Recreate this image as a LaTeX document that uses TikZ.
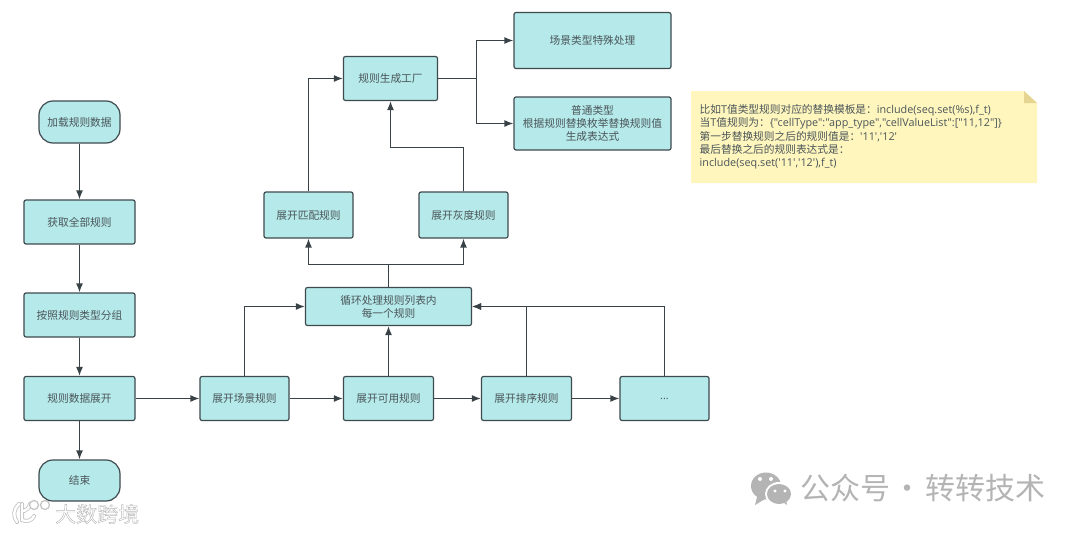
\documentclass[tikz,border=0pt]{standalone}
\usepackage{fontspec}
\setmainfont{Noto Sans CJK SC}
\newfontfamily\latinfont{Open Sans}
\newfontfamily\wmfont[FakeBold=2]{Noto Sans CJK SC}
\usetikzlibrary{arrows.meta}
\definecolor{boxfill}{HTML}{B5E9EA}
\definecolor{boxline}{HTML}{3F4A4F}
\definecolor{txt}{HTML}{4A5558}
\definecolor{notefill}{HTML}{FFF6BE}
\definecolor{notefold}{HTML}{E6D590}
\definecolor{wm}{HTML}{B4B4B4}
\newcommand{\lt}[1]{{\latinfont\fontsize{10.8}{13.2}\selectfont #1}}
\tikzset{
  x=1pt,y=-1pt,
  flow/.style={draw=boxline,fill=boxfill,line width=1.2pt,rounded corners=2pt,text=txt,font=\fontsize{10.7}{13}\selectfont,align=center,inner sep=0pt,anchor=center},
  term/.style={flow,rounded corners=14pt},
  conn/.style={draw=boxline!90!black,line width=1.3pt,-{Latex[length=9pt,width=7pt]}},
  plain/.style={draw=boxline!90!black,line width=1.3pt},
  wmtext/.style={text=wm,inner sep=0pt}
}
\begin{document}
\begin{tikzpicture}
\useasboundingbox (0,0) rectangle (1080,533);
\fill[white] (0,0) rectangle (1080,533);
% left column
\node[term,minimum width=81pt,minimum height=42pt] (start) at (79.5,122) {加载规则数据};
\node[flow,minimum width=111pt,minimum height=44pt] (all) at (79.5,222) {获取全部规则};
\node[flow,minimum width=111pt,minimum height=44pt] (group) at (79.5,315) {按照规则类型分组};
\node[flow,minimum width=111pt,minimum height=44pt] (expand) at (79.5,398.5) {规则数据展开};
\node[term,minimum width=81pt,minimum height=41pt] (end) at (79.5,480.5) {结束};
% bottom row
\node[flow,minimum width=89pt,minimum height=44pt] (scene) at (244.5,398.5) {展开场景规则};
\node[flow,minimum width=90pt,minimum height=44pt] (avail) at (388.5,398.5) {展开可用规则};
\node[flow,minimum width=90pt,minimum height=44pt] (sort) at (526.5,398.5) {展开排序规则};
\node[flow,minimum width=89pt,minimum height=44pt] (more) at (664.5,398.5) {\latinfont ...};
% middle
\node[flow,minimum width=166pt,minimum height=38pt] (loop) at (388.5,306.5) {循环处理规则列表内\\每一个规则};
\node[flow,minimum width=89pt,minimum height=46pt] (match) at (308.5,215) {展开匹配规则};
\node[flow,minimum width=89pt,minimum height=46pt] (gray) at (463.5,215) {展开灰度规则};
\node[flow,minimum width=94pt,minimum height=44pt] (factory) at (390.5,78.5) {规则生成工厂};
\node[flow,minimum width=157pt,minimum height=56pt] (special) at (592.5,40.5) {场景类型特殊处理};
\node[flow,minimum width=157pt,minimum height=53pt] (normal) at (592.5,123.5) {普通类型\\根据规则替换枚举替换规则值\\生成表达式};
% connectors
\draw[conn] (start) -- (all);
\draw[conn] (all) -- (group);
\draw[conn] (group) -- (expand);
\draw[conn] (expand) -- (end);
\draw[conn] (expand) -- (scene);
\draw[conn] (scene) -- (avail);
\draw[conn] (avail) -- (sort);
\draw[conn] (sort) -- (more);
\draw[conn] (scene.north) |- (loop.west);
\draw[conn] (avail.north) -- (loop.south);
\draw[conn] (sort.north) |- (loop.east);
\draw[conn] (more.north) |- (loop.east);
\coordinate (fork) at (388.5,264.5);
\draw[plain] (loop.north) -- (fork);
\draw[conn] (fork) -| (match.south);
\draw[conn] (fork) -| (gray.south);
\draw[conn] (match.north) |- (factory.west);
\coordinate (graybend) at (390.5,147.5);
\draw[conn] (gray.north) |- (graybend) -- (factory.south);
\coordinate (split) at (476.5,78.5);
\draw[plain] (factory.east) -- (split);
\draw[conn] (split) |- (special.west);
\draw[conn] (split) |- (normal.west);
% note
\fill[notefill] (691,91) -- (1024,91) -- (1037,103) -- (1037,183) -- (691,183) -- cycle;
\fill[notefold] (1024,91) -- (1037,103) -- (1024,103) -- cycle;
\node[text=txt,anchor=north west,align=left,inner sep=0pt,font=\fontsize{10.7}{13.2}\selectfont] (notetext) at (699.5,104.5) {比如\lt{T}值类型规则对应的替换模板是：\lt{include(seq.set(\%s),f\_t)}\\当\lt{T}值规则为：\lt{\{"cellType":"app\_type","cellValueList":["11,12"]\}}\\第一步替换规则之后的规则值是：\lt{'11','12'}\\最后替换之后的规则表达式是：\\\lt{include(seq.set('11','12'),f\_t)}};
% wechat watermark
\fill[wm] (766,486) ellipse [x radius=15pt,y radius=13.5pt];
\fill[wm] (757,497) -- (755,505) -- (765,499) -- cycle;
\fill[white] (760,479) circle (2pt) (771,479) circle (2pt);
\fill[white] (779,494) ellipse [x radius=14pt,y radius=12pt];
\fill[wm] (779,494) ellipse [x radius=12pt,y radius=10pt];
\fill[wm] (783,502) -- (787,505) -- (786,499) -- cycle;
\fill[white] (775,491) circle (1.6pt) (785,491) circle (1.6pt);
\node[wmtext,anchor=west,font=\fontsize{30}{32}\selectfont] (wmark) at (800,488) {公众号\makebox[35pt]{·}转转技术};
% bottom-left watermark
\draw[wm!80,line width=4pt,line cap=round] (19,504) .. controls (13,510) and (13,516) .. (17,522) (22,504) -- (22,520) .. controls (26,522) and (32,521) .. (34,516) (24,511) .. controls (27,510) and (29,508) .. (30,504);
\draw[white,line width=2.4pt,line cap=round] (19,504) .. controls (13,510) and (13,516) .. (17,522) (22,504) -- (22,520) .. controls (26,522) and (32,521) .. (34,516) (24,511) .. controls (27,510) and (29,508) .. (30,504);
\draw[wm!80,line width=1.2pt,fill=white] (34,505) circle (4.5pt) (45,505) circle (4.5pt);
\node[inner sep=0pt,anchor=west,font=\wmfont\fontsize{21}{23}\selectfont,text=white] (wmb) at (55,514) {\special{pdf:code 0.72 0.72 0.72 RG}大数跨境};
\end{tikzpicture}
\end{document}
